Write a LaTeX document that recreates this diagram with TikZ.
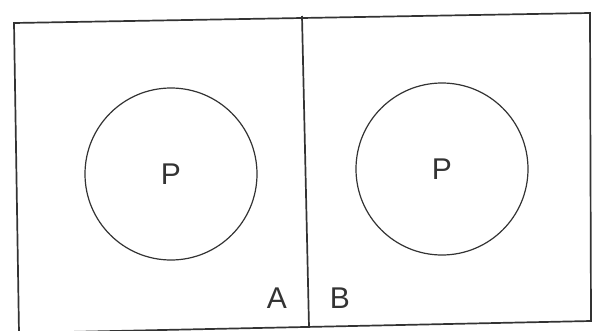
\documentclass[tikz,border=0pt]{standalone}
\usepackage{fontspec}
\setmainfont{Liberation Sans}
\usepackage{tikz}
\usetikzlibrary{calc}
\definecolor{ScanInk}{HTML}{333333}

\begin{document}
\begin{tikzpicture}[
  x=1pt,y=-1pt,
  frameline/.style={draw=ScanInk,line width=1.7pt},
  ringnode/.style={circle,draw=ScanInk,line width=1.2pt,minimum size=172pt,
    inner sep=0pt,text=ScanInk,font=\fontsize{30}{36}\selectfont},
  letter/.style={text=ScanInk,inner sep=0pt,font=\fontsize{30}{36}\selectfont}
]
\useasboundingbox (0,0) rectangle (595,330);
% outer frame (slightly tilted, as scanned)
\coordinate (tl) at (14,23);
\coordinate (tr) at (590,13);
\coordinate (br) at (591,321);
\coordinate (bl) at (19,333);
\coordinate (divtop) at (302,16);
\coordinate (divbot) at (309,327);
\draw[frameline] (tl) -- (tr) -- (br) -- (bl) -- cycle;
\draw[frameline] (divtop) -- (divbot);
% the two sets
\node[ringnode] (ringA) at (171,174) {P};
\node[ringnode] (ringB) at (442,169) {P};
\node[letter] (labA) at (277,298) {A};
\node[letter] (labB) at (340,298) {B};
\end{tikzpicture}
\end{document}
